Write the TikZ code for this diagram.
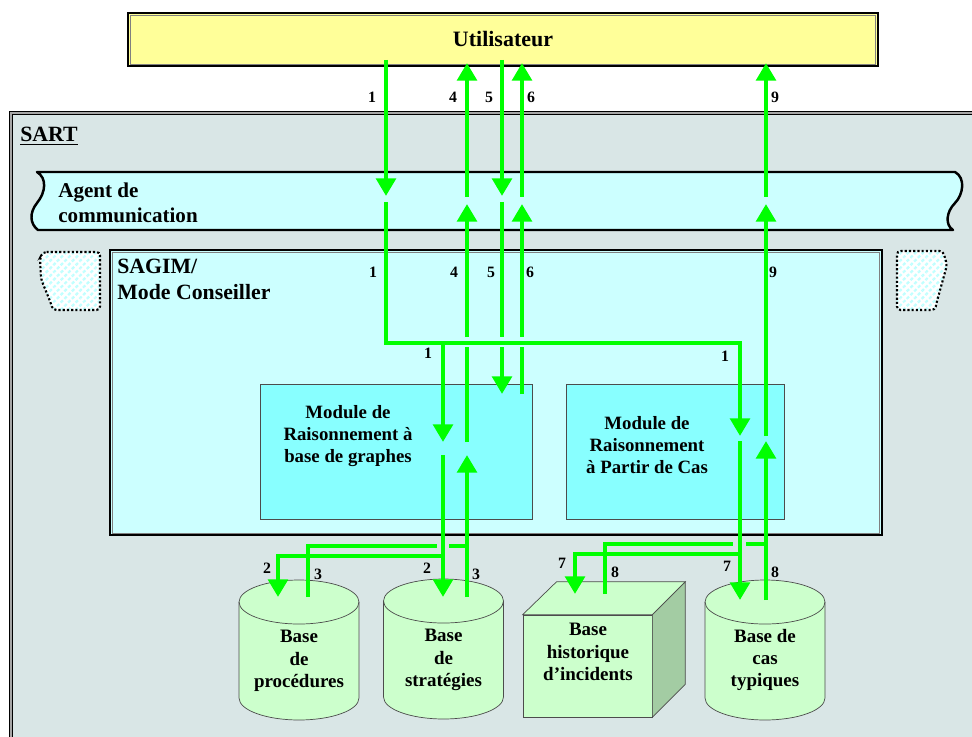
\documentclass[tikz,border=0pt]{standalone}
\usepackage{fontspec}
\setmainfont{Liberation Serif}
\usetikzlibrary{arrows.meta,patterns.meta}

\definecolor{sartbg}{HTML}{D9E6E6}
\definecolor{paleblue}{HTML}{CCFFFF}
\definecolor{modblue}{HTML}{88FFFF}
\definecolor{useryellow}{HTML}{FFFF99}
\definecolor{basegreen}{HTML}{CCFFCC}
\definecolor{sidegreen}{HTML}{A3CCA3}
\definecolor{flowgreen}{HTML}{00FF00}

\tikzset{
  flow/.style={draw=flowgreen, line width=2.8pt},
  flowarrow/.style={flow, -{Triangle[width=11pt,length=10pt]}},
  num/.style={font=\bfseries\fontsize{9}{10}\selectfont, inner sep=0pt},
  module/.style={draw=black!70, fill=modblue, minimum height=2.7cm},
  modtext/.style={font=\bfseries\fontsize{10.7}{12.5}\selectfont, align=center},
  dbase/.style={minimum width=2.4cm, minimum height=2.8cm, inner sep=0pt, outer sep=0pt},
  dbline/.style={draw=black!70, fill=basegreen},
  dbtext/.style={font=\bfseries\fontsize{10.8}{12.7}\selectfont, align=center},
  hole/.style={draw=black, line width=1.2pt, dash pattern=on 1.2pt off 1.2pt,
    preaction={fill=white}, pattern={Lines[angle=45, distance=3pt, line width=1.3pt]},
    pattern color=cyan!25, rounded corners=2pt},
}

\begin{document}
\begin{tikzpicture}[x=0.02cm, y=-0.02cm]
  \useasboundingbox (0,0) rectangle (972,736);
  % SART frame
  \draw[fill=sartbg, draw=black, double=gray!70, double distance=0.8pt, line width=0.6pt]
    (11,113) rectangle (1000,760);
  \node[anchor=base west, inner sep=0pt, font=\bfseries\fontsize{12.4}{14}\selectfont]
    (sart) at (20,142) {\underline{SART}};
  \draw[hole] (43,252) -- (100,252) -- (100,310) -- (53,310) -- (50,301) -- (41,279) -- (40,258) -- cycle;
  \draw[hole] (897,251) -- (943,251) -- (947,265) -- (937,301) -- (935,310) -- (897,310) -- cycle;

  % communication agent banner
  \draw[fill=paleblue, line width=1.4pt, line join=round]
    (37,172) -- (955,172) .. controls (966,178) and (963,195) .. (955,203)
    .. controls (946,212) and (945,225) .. (953,230) -- (38,230)
    .. controls (30,224) and (29,213) .. (37,203)
    .. controls (46,192) and (47,178) .. (37,172) -- cycle;
  \node[anchor=north west, align=left, inner sep=0pt, font=\bfseries\fontsize{12}{14.2}\selectfont]
    (agent) at (58,183) {Agent de\\communication};

  % user
  \node[draw=black, line width=1.6pt, fill=useryellow, minimum width=15cm, minimum height=1.06cm,
    font=\bfseries\fontsize{12.5}{14}\selectfont] (user) at (503,39.5) {Utilisateur};
  \draw[gray] ([shift={(2pt,-2pt)}]user.north west) rectangle ([shift={(-2pt,2pt)}]user.south east);

  % SAGIM
  \node[draw=black, line width=1.6pt, fill=paleblue, minimum width=15.44cm, minimum height=5.7cm]
    (sagim) at (496,392.5) {};
  \draw[gray] ([shift={(2pt,-2pt)}]sagim.north west) rectangle ([shift={(-2pt,2pt)}]sagim.south east);
  \node[anchor=north west, align=left, inner sep=0pt, font=\bfseries\fontsize{12.4}{14.7}\selectfont]
    (sagimtxt) at (117,259) {SAGIM/\\Mode Conseiller};

  % reasoning modules
  \node[module, minimum width=5.44cm] (gmod) at (396,451.5) {};
  \node[modtext] (gtxt) at (348,436) {Module de\\Raisonnement à\\base de graphes};
  \node[module, minimum width=4.36cm] (cmod) at (675,451.5) {};
  \node[modtext] (ctxt) at (647,445) {Module de\\Raisonnement\\à Partir de Cas};

  % bases
  \node[dbase] (bproc) at (299,650) {};
  \node[dbase] (bstrat) at (443.5,649) {};
  \node[dbase] (bcas) at (765,650) {};
  \foreach \b in {bproc, bstrat, bcas} {
    \draw[dbline] ([yshift=-0.44cm]\b.north west) -- ([yshift=0.44cm]\b.south west)
      arc[start angle=180, end angle=360, x radius=1.2cm, y radius=0.44cm]
      -- ([yshift=-0.44cm]\b.north east)
      arc[start angle=0, end angle=180, x radius=1.2cm, y radius=0.44cm] -- cycle;
    \draw[draw=black!70] ([yshift=-0.44cm]\b.north west)
      arc[start angle=180, end angle=360, x radius=1.2cm, y radius=0.44cm];
  }
  \node[dbtext] (bproctxt) at (299,661) {Base\\de\\procédures};
  \node[dbtext] (bstrattxt) at (443.5,660) {Base\\de\\stratégies};
  \node[dbtext] (bcastxt) at (765,660) {Base de\\cas\\typiques};
  \node[draw=black!70, fill=basegreen, minimum width=2.58cm, minimum height=2.04cm]
    (hist) at (587.5,666) {};
  \draw[draw=black!70, fill=basegreen] (hist.north west) -- ++(0.68cm,0.66cm)
    -- ([shift={(0.66cm,0.66cm)}]hist.north east) -- (hist.north east) -- cycle;
  \draw[draw=black!70, fill=sidegreen] (hist.north east) -- ++(0.66cm,0.66cm)
    -- ([shift={(0.66cm,0.66cm)}]hist.south east) -- (hist.south east) -- cycle;
  \node[dbtext] (histtxt) at (588,652) {Base\\historique\\d’incidents};

  % columns and levels of the flows
  \foreach \n/\v in {xp/278, xq/308, xa/386, xb/443, xb1/437, xb2/449, xc/467, xd/502,
      xe/522, xh/575, xk/605, xf/740, xf1/733, xf2/746, xg/766}
    \coordinate (\n) at (\v,0);
  \foreach \n/\v in {yu1/60, yu2/63, ya1/196, ya2/202, ya3/197, ya4/204, yg1/337, yh/343,
      yg2/347, ym0/394, yc1/436, yc2/441, ym1/442, ym2/455, y8/544, y3/546, y7/554,
      y2/556, ybh/594, yb/597, ybc/600}
    \coordinate (\n) at (0,\v);

  % 1
  \draw[flowarrow] (xa |- yu1) -- (xa |- ya1);
  \draw[flowarrow] (xa |- ya2) -- (xa |- yh) -- (xf |- yh) -- (xf |- yc1);
  \draw[flowarrow] (xb |- yh) -- (xb |- ym1);
  % 2
  \draw[flowarrow] (xb |- ym2) -- (xb |- yb);
  \draw[flowarrow] (xb |- y2) -- (xp |- y2) -- (xp |- yb);
  % 3
  \draw[flowarrow] (xc |- yb) -- (xc |- ym2);
  \draw[flow] (xq |- yb) -- (xq |- y3) -- (xb1 |- y3);
  \draw[flow] (xb2 |- y3) -- (xc |- y3);
  % 4
  \draw[flow] (xc |- ym1) -- (xc |- yg2);
  \draw[flowarrow] (xc |- yg1) -- (xc |- ya4);
  \draw[flowarrow] (xc |- ya3) -- (xc |- yu2);
  % 5
  \draw[flowarrow] (xd |- yu1) -- (xd |- ya1);
  \draw[flow] (xd |- ya2) -- (xd |- yg1);
  \draw[flowarrow] (xd |- yg2) -- (xd |- ym0);
  % 6
  \draw[flow] (xe |- ym0) -- (xe |- yg2);
  \draw[flowarrow] (xe |- yg1) -- (xe |- ya4);
  \draw[flowarrow] (xe |- ya3) -- (xe |- yu2);
  % 7
  \draw[flowarrow] (xf |- yc2) -- (xf |- ybc);
  \draw[flowarrow] (xf |- y7) -- (xh |- y7) -- (xh |- ybh);
  % 8
  \draw[flowarrow] (xg |- ybc) -- (xg |- yc2);
  \draw[flow] (xk |- ybh) -- (xk |- y8) -- (xf1 |- y8);
  \draw[flow] (xf2 |- y8) -- (xg |- y8);
  % 9
  \draw[flowarrow] (xg |- yc1) -- (xg |- ya4);
  \draw[flowarrow] (xg |- ya3) -- (xg |- yu2);

  % flow numbers
  \foreach \t/\x/\y [count=\i] in {1/372/97, 4/453/97, 5/489/97, 6/531/97, 9/775/97,
      1/373/272, 4/454/272, 5/491/272, 6/530/272, 9/773/272, 1/428/353, 1/725/356,
      2/267/568, 3/318/574, 2/427/568, 3/476/574, 7/562/563, 8/615/572, 7/727/566, 8/775/572}
    \node[num] (lab\i) at (\x,\y) {\t};
\end{tikzpicture}
\end{document}
